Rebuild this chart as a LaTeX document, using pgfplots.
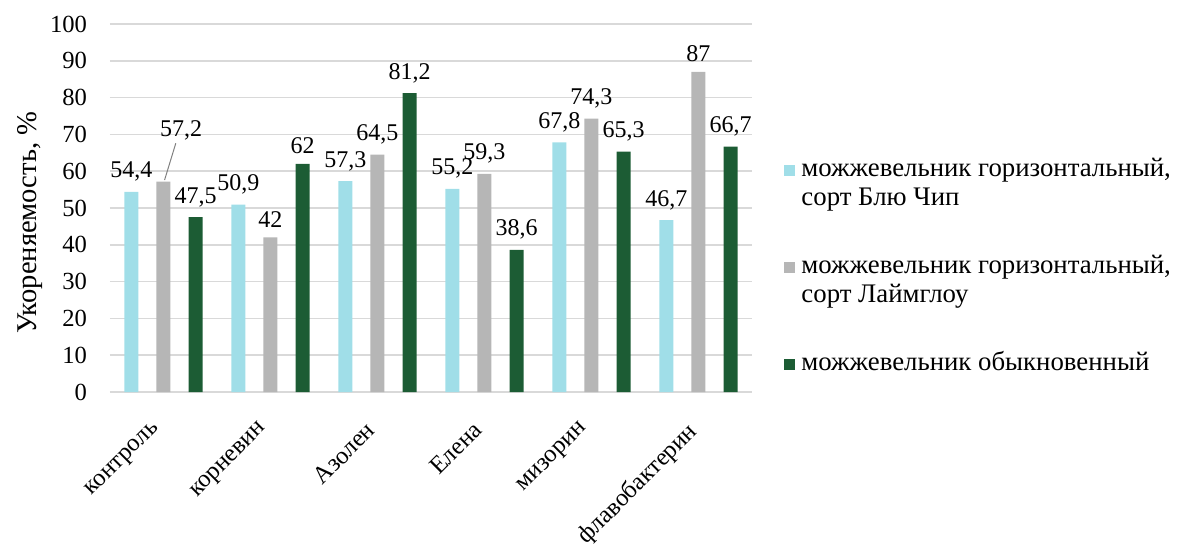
\documentclass[border=0pt]{standalone}
\usepackage{pgfplots}
\pgfplotsset{compat=1.18}
\usepackage{fontspec}
\setmainfont{Liberation Serif}
\definecolor{cCyan}{RGB}{160,222,232}
\definecolor{cGray}{RGB}{182,182,182}
\definecolor{cGreen}{RGB}{28,92,52}
\definecolor{cGrid}{RGB}{217,217,217}
\begin{document}
\begin{tikzpicture}
\path (-55pt,-76.5pt) rectangle (533.5pt,196pt);
\begin{axis}[
  at={(0,0)}, anchor=south west,
  scale only axis, width=321pt, height=184pt,
  xmin=-0.5, xmax=5.5, ymin=0, ymax=100,
  ytick={0,10,...,100},
  xtick={0,1,2,3,4,5},
  xticklabels={контроль,корневин,Азолен,Елена,мизорин,флавобактерин},
  axis line style={draw=none},
  major tick length=0pt,
  ymajorgrids, grid style={cGrid, line width=0.8pt},
  /pgf/number format/assume math mode=true,
  yticklabel style={font=\fontsize{12.3}{14}\selectfont, xshift=-8pt},
  xticklabel style={font=\fontsize{12.3}{14}\selectfont, rotate=45, anchor=north east, xshift=-11pt, yshift=-2pt},
  ylabel={Укореняемость, \%},
  ylabel style={font=\fontsize{14.3}{16}\selectfont, at={(axis description cs:-0.1246,0.46)}, anchor=center, rotate=0},
  ybar, bar width=7pt,
  point meta=explicit symbolic,
  nodes near coords,
  nodes near coords style={font=\fontsize{12}{14}\selectfont, anchor=south, inner sep=2pt, yshift=3pt},
  legend style={at={(1.05,0.654)}, anchor=north west, draw=none, fill=none, inner sep=0pt,
    font=\fontsize{13.4}{14.5}\selectfont, row sep=17pt,
    nodes={align=left, anchor=north west, inner sep=3pt}},
  legend cell align=left,
  legend image code/.code={\fill[#1] (0pt,-12.3pt) rectangle (5.5pt,-6.8pt);},
]
\addplot[fill=cCyan, draw=none, bar shift=-0.3] coordinates {
 (0,54.4) [54,4] (1,50.9) [50,9] (2,57.3) [57,3] (3,55.2) [55,2] (4,67.8) [67,8] (5,46.7) [46,7]};
\addlegendentry{можжевельник горизонтальный,\\сорт Блю Чип}
\addplot[fill=cGray, draw=none, bar shift=0] coordinates {
 (0,57.2) [{}] (1,42) [42] (2,64.5) [64,5] (3,59.3) [59,3] (4,74.3) [74,3] (5,87) [87]};
\addlegendentry{можжевельник горизонтальный,\\сорт Лаймглоу}
\addplot[fill=cGreen, draw=none, bar shift=0.3] coordinates {
 (0,47.5) [47,5] (1,62) [62] (2,81.2) [81,2] (3,38.6) [38,6] (4,65.3) [65,3] (5,66.7) [66,7]};
\addlegendentry{можжевельник обыкновенный}
\draw[gray, line width=0.5pt] (axis cs:0.01,57.6) -- (axis cs:0.115,67.6);
\node[font=\fontsize{12}{14}\selectfont] at (axis cs:0.165,71.2) {57,2};
\end{axis}
\end{tikzpicture}
\end{document}
